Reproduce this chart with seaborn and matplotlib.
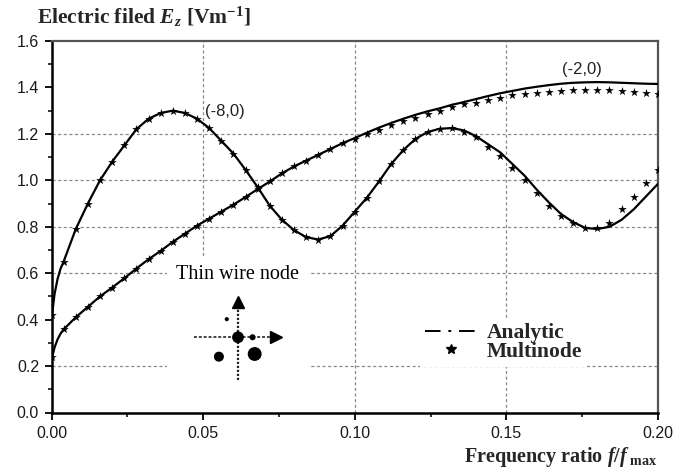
import numpy as np
import pandas as pd
import matplotlib
matplotlib.use("Agg")
import matplotlib.pyplot as plt
import seaborn as sns
from matplotlib.lines import Line2D
from matplotlib.patches import Rectangle
from matplotlib.ticker import MultipleLocator, FormatStrFormatter

# ---------------- data ----------------
x_analytic = [0.000, 0.001, 0.002, 0.003, 0.004, 0.008, 0.012, 0.016, 0.020, 0.024,
              0.028, 0.032, 0.036, 0.040, 0.044, 0.048, 0.052, 0.056, 0.060, 0.064,
              0.068, 0.072, 0.076, 0.080, 0.084, 0.088, 0.092, 0.096, 0.100, 0.104,
              0.108, 0.112, 0.116, 0.120, 0.124, 0.128, 0.132, 0.136, 0.140, 0.144,
              0.148, 0.152, 0.156, 0.160, 0.164, 0.168, 0.172, 0.176, 0.180, 0.184,
              0.188, 0.192, 0.196, 0.200]
analytic_m8 = [0.400, 0.510, 0.575, 0.620, 0.650, 0.790, 0.900, 1.000, 1.080, 1.150,
               1.220, 1.265, 1.290, 1.300, 1.290, 1.265, 1.225, 1.170, 1.115, 1.045,
               0.970, 0.890, 0.830, 0.785, 0.755, 0.745, 0.760, 0.805, 0.865, 0.925,
               0.995, 1.070, 1.130, 1.178, 1.208, 1.222, 1.225, 1.215, 1.190, 1.155,
               1.120, 1.070, 1.020, 0.960, 0.905, 0.855, 0.820, 0.795, 0.790, 0.800,
               0.830, 0.875, 0.930, 0.985]
analytic_m2 = [0.225, 0.280, 0.315, 0.340, 0.358, 0.410, 0.455, 0.500, 0.538, 0.578,
               0.620, 0.660, 0.696, 0.735, 0.770, 0.805, 0.835, 0.865, 0.895, 0.928,
               0.962, 0.995, 1.030, 1.060, 1.085, 1.110, 1.135, 1.160, 1.182, 1.205,
               1.227, 1.247, 1.265, 1.282, 1.297, 1.310, 1.325, 1.337, 1.350, 1.363,
               1.375, 1.385, 1.395, 1.403, 1.410, 1.416, 1.420, 1.422, 1.423, 1.422,
               1.420, 1.418, 1.416, 1.415]

x_multinode = [0.000, 0.004, 0.008, 0.012, 0.016, 0.020, 0.024, 0.028, 0.032, 0.036,
               0.040, 0.044, 0.048, 0.052, 0.056, 0.060, 0.064, 0.068, 0.072, 0.076,
               0.080, 0.084, 0.088, 0.092, 0.096, 0.100, 0.104, 0.108, 0.112, 0.116,
               0.120, 0.124, 0.128, 0.132, 0.136, 0.140, 0.144, 0.148, 0.152, 0.156,
               0.160, 0.164, 0.168, 0.172, 0.176, 0.180, 0.184, 0.188, 0.192, 0.196,
               0.200]
multinode_m8 = [0.420, 0.650, 0.790, 0.900, 1.000, 1.080, 1.150, 1.220, 1.265, 1.290,
                1.300, 1.290, 1.265, 1.225, 1.170, 1.115, 1.045, 0.970, 0.890, 0.830,
                0.785, 0.755, 0.745, 0.760, 0.805, 0.865, 0.925, 0.995, 1.070, 1.130,
                1.178, 1.208, 1.222, 1.225, 1.210, 1.185, 1.145, 1.105, 1.055, 1.000,
                0.945, 0.890, 0.845, 0.815, 0.795, 0.795, 0.815, 0.875, 0.930, 0.990,
                1.045]
multinode_m2 = [0.240, 0.360, 0.410, 0.455, 0.500, 0.538, 0.578, 0.620, 0.660, 0.696,
                0.735, 0.770, 0.805, 0.835, 0.865, 0.895, 0.928, 0.962, 0.995, 1.030,
                1.060, 1.085, 1.110, 1.135, 1.160, 1.180, 1.200, 1.218, 1.237, 1.255,
                1.270, 1.285, 1.300, 1.315, 1.327, 1.335, 1.345, 1.356, 1.366, 1.372,
                1.377, 1.382, 1.385, 1.387, 1.389, 1.390, 1.388, 1.384, 1.380, 1.378,
                1.373]

curve_labels = ["(-8,0)", "(-2,0)"]
legend_labels = ["Analytic", "Multinode"]
x_ticks = [0.00, 0.05, 0.10, 0.15, 0.20]
y_ticks = [0.0, 0.2, 0.4, 0.6, 0.8, 1.0, 1.2, 1.4, 1.6]
y_grid = [0.2, 0.6, 0.8, 1.0, 1.2]
x_grid = [0.05, 0.10, 0.15]

# ---------------- style ----------------
sns.set_theme(style="white")
plt.rcParams["font.family"] = ["Liberation Sans", "DejaVu Sans"]
plt.rcParams["mathtext.fontset"] = "custom"
plt.rcParams["mathtext.rm"] = "Liberation Serif:bold"
plt.rcParams["mathtext.it"] = "Liberation Serif:italic:bold"
plt.rcParams["mathtext.bf"] = "Liberation Serif:bold"

fig = plt.figure(figsize=(6.75, 4.74), dpi=100)
ax = fig.add_axes([51.5 / 675, 1 - 412.5 / 474, (658 - 51.5) / 675, (412.5 - 41) / 474])

df_a = pd.DataFrame({"x": x_analytic * 2,
                     "y": analytic_m8 + analytic_m2,
                     "curve": [curve_labels[0]] * len(x_analytic) + [curve_labels[1]] * len(x_analytic)})
df_m = pd.DataFrame({"x": x_multinode * 2,
                     "y": multinode_m8 + multinode_m2,
                     "curve": [curve_labels[0]] * len(x_multinode) + [curve_labels[1]] * len(x_multinode)})

# grid lines
for gx in x_grid:
    ax.axvline(gx, color="#8a8a8a", lw=0.9, ls=(0, (2.5, 2)), zorder=0.5)
for gy in y_grid:
    ax.axhline(gy, color="#8a8a8a", lw=0.9, ls=(0, (2.5, 2)), zorder=0.5)

# white area behind the inset diagram (hides grid)
ax.add_patch(Rectangle((0.0382, 0.0), 0.0474, 0.672, facecolor="white",
                       edgecolor="none", zorder=1))

sns.lineplot(data=df_a, x="x", y="y", units="curve", estimator=None, color="black",
             lw=1.6, ax=ax, legend=False, zorder=3, sort=False)
sns.scatterplot(data=df_m, x="x", y="y", marker="*", color="black", s=42,
                linewidth=0, ax=ax, legend=False, zorder=4)

ax.set_xlim(0, 0.2)
ax.set_ylim(0, 1.6)
ax.set_xticks(x_ticks)
ax.set_yticks(y_ticks)
ax.xaxis.set_minor_locator(MultipleLocator(0.025))
ax.yaxis.set_minor_locator(MultipleLocator(0.1))
ax.xaxis.set_major_formatter(FormatStrFormatter("%.2f"))
ax.yaxis.set_major_formatter(FormatStrFormatter("%.1f"))
ax.tick_params(which="major", direction="out", length=5, width=1.3, color="black",
               labelsize=11.5, labelcolor="#1a1a1a", bottom=True, left=True, pad=4)
ax.tick_params(which="minor", direction="out", length=3, width=1.1, color="black",
               bottom=True, left=True)
ax.tick_params(axis="x", which="major", pad=5)
ax.set_xlabel("")
ax.set_ylabel("")
for side in ["left", "bottom"]:
    ax.spines[side].set_color("black")
    ax.spines[side].set_linewidth(1.8)
for side in ["top", "right"]:
    ax.spines[side].set_color("#555555")
    ax.spines[side].set_linewidth(1.6)

# curve labels
ax.text(0.0571, 1.295, curve_labels[0], fontsize=12, ha="center", va="center", color="#222222")
ax.text(0.175, 1.476, curve_labels[1], fontsize=12, ha="center", va="center", color="#222222")

# inset "thin wire node" diagram
ax.text(0.0613, 0.593, "Thin wire node", fontsize=14.5, ha="center", va="center",
        family="Liberation Serif", color="black", zorder=5)
ax.plot([0.0615, 0.0615], [0.14, 0.47], color="#222222", lw=1.6, ls=(0, (1, 0.8)), zorder=5)
ax.plot([0.047, 0.073], [0.324, 0.324], color="#444444", lw=1.4, ls=(0, (1.5, 1)), zorder=5)
ax.plot([0.0615], [0.474], marker="^", color="black", ms=8, zorder=6)
ax.plot([0.0739], [0.324], marker=">", color="black", ms=8, zorder=6)
ax.scatter([0.0615, 0.0578, 0.0663, 0.0552, 0.067], [0.324, 0.402, 0.324, 0.2405, 0.252],
           s=[72, 9, 19, 52, 100], color="black", linewidth=0, zorder=6)

# legend
handles = [Line2D([], [], color="black", lw=1.4, ls=(0, (8, 4, 1.5, 4))),
           Line2D([], [], color="black", lw=0, marker="*", ms=7.5)]
leg = ax.legend(handles, legend_labels, loc="upper left",
                bbox_to_anchor=((420 - 51.5) / 606.5, (412.5 - 318) / 371.5),
                borderaxespad=0, borderpad=0.25, handlelength=2.4, handletextpad=0.45,
                labelspacing=-0.08, frameon=True, fancybox=False,
                prop={"family": "Liberation Serif", "weight": "bold", "size": 15.5})
leg.get_frame().set_facecolor("white")
leg.get_frame().set_edgecolor("none")
leg.get_frame().set_alpha(1)
leg.set_zorder(5)

# axis titles
fig.text(37 / 675, 1 - 23.5 / 474, "Electric filed $E_z$ [Vm$^{-1}$]",
         fontsize=15.5, family="Liberation Serif", weight="bold", ha="left", va="baseline")
fig.text(657 / 675, 1 - 461.7 / 474, "Frequency ratio $f/f_{\\ \\mathrm{max}}$",
         fontsize=14.5, family="Liberation Serif", weight="bold", ha="right", va="baseline")

fig.savefig("out.png", dpi=100)
